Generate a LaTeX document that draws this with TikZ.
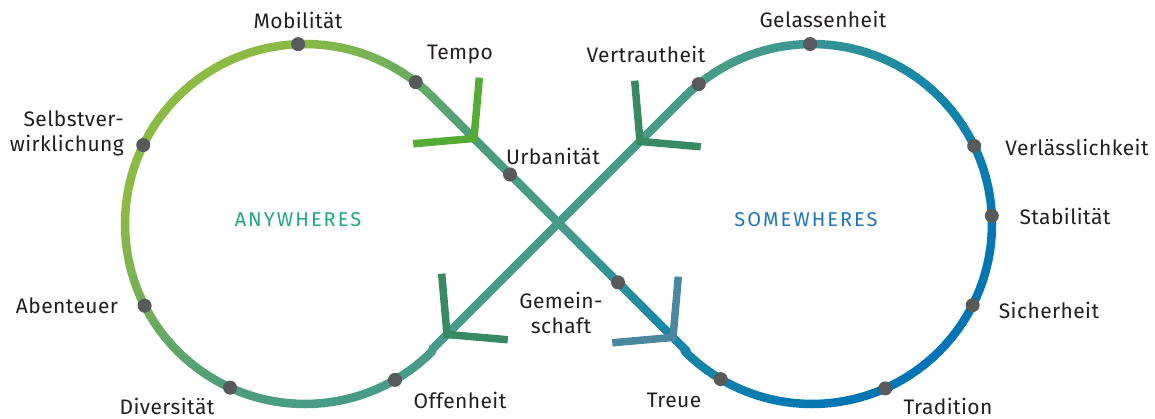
\documentclass[tikz,border=0pt]{standalone}
\usepackage{fontspec}
\setmainfont{Fira Sans}[LetterSpace=2]
\newfontfamily\spacedfont[LetterSpace=10]{Fira Sans}
\usetikzlibrary{calc}
\definecolor{dotgray}{RGB}{88,89,91}
\definecolor{labelc}{RGB}{35,31,32}
\definecolor{anyc}{RGB}{30,170,122}
\definecolor{somec}{RGB}{27,118,189}
\definecolor{chevA}{RGB}{84,172,52}
\definecolor{chevB}{RGB}{56,138,98}
\definecolor{chevC}{RGB}{76,135,160}
\newcommand\gmix[6]{%
  \pgfmathtruncatemacro\gR{#1+(#4-#1)*\gT}%
  \pgfmathtruncatemacro\gG{#2+(#5-#2)*\gT}%
  \pgfmathtruncatemacro\gB{#3+(#6-#3)*\gT}%
  \definecolor{segc}{RGB}{\gR,\gG,\gB}}
\newcommand\setsegcolor[1]{%
  \pgfmathsetmacro\sv{max(340,min(1280,#1))}%
  \ifdim\sv pt<620pt
    \pgfmathsetmacro\gT{(\sv-340)/280}\gmix{139}{187}{69}{76}{158}{125}%
  \else\ifdim\sv pt<800pt
    \pgfmathsetmacro\gT{(\sv-620)/180}\gmix{76}{158}{125}{70}{156}{138}%
  \else\ifdim\sv pt<1000pt
    \pgfmathsetmacro\gT{(\sv-800)/200}\gmix{70}{156}{138}{22}{136}{168}%
  \else
    \pgfmathsetmacro\gT{(\sv-1000)/280}\gmix{22}{136}{168}{0}{116}{181}%
  \fi\fi\fi}
\tikzset{
  loopseg/.style={line width=8.5pt, line cap=round},
  chev/.style={line width=7.5pt, line cap=butt, line join=miter},
  dot/.style={circle, fill=dotgray, minimum size=14pt, inner sep=0pt},
  lbl/.style={text=labelc, font=\fontsize{21}{25}\selectfont, inner sep=0pt},
  big/.style={font=\spacedfont\fontsize{20}{24}\selectfont, inner sep=0pt}
}
\begin{document}
\begin{tikzpicture}[x=1pt,y=-1pt]
\useasboundingbox (0,0) rectangle (1155,419);
% left arc
\foreach \a in {-45,-48,...,-312}{
  \pgfmathsetmacro\b{\a-3}
  \pgfmathsetmacro\m{\a-1.5}
  \setsegcolor{529+180*cos(\m)+180*sin(\m)}
  \draw[loopseg, segc] ({305+180*cos(\a)},{224+180*sin(\a)}) -- ({305+180*cos(\b)},{224+180*sin(\b)});
}
% right arc
\foreach \a in {-135,-132,...,132}{
  \pgfmathsetmacro\b{\a+3}
  \pgfmathsetmacro\m{\a+1.5}
  \setsegcolor{1036+180*cos(\m)+180*sin(\m)}
  \draw[loopseg, segc] ({812+180*cos(\a)},{224+180*sin(\a)}) -- ({812+180*cos(\b)},{224+180*sin(\b)});
}
% up-right line
\foreach \i in {0,...,23}{
  \pgfmathsetmacro\xa{432.28+254.44*\i/24}
  \pgfmathsetmacro\xb{432.28+254.44*(\i+1)/24}
  \setsegcolor{781.44}
  \draw[loopseg, segc] (\xa,{781.44-\xa}) -- (\xb,{781.44-\xb});
}
% down-right line
\foreach \i in {0,...,23}{
  \pgfmathsetmacro\xa{432.28+254.44*\i/24}
  \pgfmathsetmacro\xb{432.28+254.44*(\i+1)/24}
  \setsegcolor{2*(\xa+\xb)/2-335.56}
  \draw[loopseg, segc] (\xa,{\xa-335.56}) -- (\xb,{\xb-335.56});
}
% chevrons
\coordinate (c1) at (474,138.44);
\coordinate (c2) at (640,141.44);
\coordinate (c3) at (447,334.44);
\coordinate (c4) at (673,337.44);
\draw[chev, chevA] ($(c1)+(275:61)$) -- (c1) -- ($(c1)+(175:61)$);
\draw[chev, chevB] ($(c2)+(265:61)$) -- (c2) -- ($(c2)+(5:61)$);
\draw[chev, chevB] ($(c3)+(265:61)$) -- (c3) -- ($(c3)+(5:61)$);
\draw[chev, chevC] ($(c4)+(275:61)$) -- (c4) -- ($(c4)+(175:61)$);
% dots
\node[dot] (dMob) at ($(305,224)+(-92.2:180)$) {};
\node[dot] (dTem) at ($(305,224)+(-52:180)$) {};
\node[dot] (dSel) at ($(305,224)+(-154:180)$) {};
\node[dot] (dAbe) at ($(305,224)+(153:180)$) {};
\node[dot] (dDiv) at ($(305,224)+(114.6:180)$) {};
\node[dot] (dOff) at ($(305,224)+(60:180)$) {};
\node[dot] (dGel) at ($(812,224)+(-90.6:180)$) {};
\node[dot] (dVer) at ($(812,224)+(-129:180)$) {};
\node[dot] (dVel) at ($(812,224)+(-25.7:180)$) {};
\node[dot] (dSta) at ($(812,224)+(-2.6:180)$) {};
\node[dot] (dSic) at ($(812,224)+(26.8:180)$) {};
\node[dot] (dTra) at ($(812,224)+(66:180)$) {};
\node[dot] (dTre) at ($(812,224)+(120.5:180)$) {};
\node[dot] (dUrb) at (510,174.44) {};
\node[dot] (dGem) at (618,282.44) {};
% labels
\node[lbl] (tMob) at (298,20) {Mobilität};
\node[lbl] (tTem) at (460,55) {Tempo};
\node[lbl, align=right, anchor=east] (tSel) at (124,133) {Selbstver-\\wirklichung};
\node[lbl] (tUrb) at (553,156) {Urbanität};
\node[lbl] (tAbe) at (67,306) {Abenteuer};
\node[lbl] (tDiv) at (167,406) {Diversität};
\node[lbl] (tOff) at (460,400) {Offenheit};
\node[lbl] (tGel) at (823,19) {Gelassenheit};
\node[lbl] (tVer) at (646,54) {Vertrautheit};
\node[lbl] (tVel) at (1077,147) {Verlässlichkeit};
\node[lbl] (tSta) at (1065,216) {Stabilität};
\node[lbl] (tSic) at (1049,310) {Sicherheit};
\node[lbl, align=center] (tGem) at (561,313) {Gemein-\\schaft};
\node[lbl] (tTre) at (674,400) {Treue};
\node[lbl] (tTra) at (948,406) {Tradition};
\node[big, text=anyc] (tAny) at (298,220) {ANYWHERES};
\node[big, text=somec] (tSom) at (806,220) {SOMEWHERES};
\end{tikzpicture}
\end{document}
